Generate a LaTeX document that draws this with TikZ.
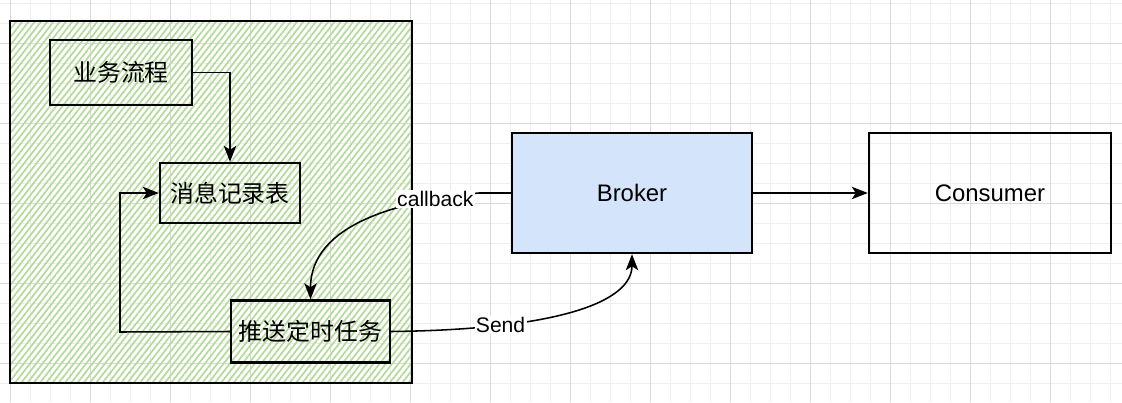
\documentclass[tikz,border=0pt]{standalone}
\usepackage{fontspec}
\setmainfont{Liberation Sans}
\newfontfamily\cjk{Noto Sans CJK SC}
\usetikzlibrary{arrows.meta,patterns.meta}
\definecolor{hatch}{HTML}{B6DA9B}
\definecolor{brokerblue}{HTML}{D4E4FA}
\definecolor{gridmin}{HTML}{EEEEEE}
\definecolor{gridmaj}{HTML}{DADADA}

\begin{document}
\begin{tikzpicture}[
  x=0.025cm, y=-0.025cm,
  font=\fontsize{17}{20}\selectfont,
  box/.style={rectangle, draw, line width=1.7pt, inner sep=0pt},
  grp/.style={rectangle, draw, line width=1.7pt,
    pattern={Lines[angle=52,distance=3.5pt,line width=1.25pt]}, pattern color=hatch},
  lbl/.style={fill=white, inner sep=1pt, font=\fontsize{15}{17}\selectfont},
  arr/.style={-{Stealth[length=4mm,width=3.1mm,inset=1mm]}, line width=1.1pt}
]
\useasboundingbox (0,0) rectangle (1122,402);
% background grid
\foreach \x in {10,30,...,1110} \draw[gridmin] (\x,0) -- (\x,402);
\foreach \y in {3,23,...,403} \draw[gridmin] (0,\y) -- (1122,\y);
\foreach \x in {10,90,...,1050} \draw[gridmaj] (\x,0) -- (\x,402);
\foreach \y in {43,123,...,363} \draw[gridmaj] (0,\y) -- (1122,\y);

\node[grp, minimum width=10.05cm, minimum height=9.05cm] (cont) at (211,202) {};

\node[box, minimum width=3.55cm, minimum height=1.625cm] (biz) at (121,72.5) {\cjk 业务流程};
\node[box, minimum width=3.5cm, minimum height=1.5cm] (tbl) at (230,193) {\cjk 消息记录表};
\node[box, minimum width=3.975cm, minimum height=1.55cm] (psh) at (310.5,331.5) {\cjk 推送定时任务};
\node[box, fill=brokerblue, minimum width=6cm, minimum height=3cm] (brk) at (632,193) {Broker};
\node[box, minimum width=6.05cm, minimum height=3cm] (csm) at (990,193) {Consumer};

\coordinate (loop) at (120,332);

\draw[arr] (biz.east) -| (tbl.north);
\draw[arr] (psh.west) -- (loop) |- (tbl.west);
\draw[arr] (brk.west) -- ++(-32,0) .. controls +(-80,8) and +(0,-75) ..
  node[lbl, pos=.18] (cb) {callback} (psh.north);
\draw[arr] (psh.east) .. controls +(170,-2) and +(0,47) ..
  node[lbl, pos=.25] (snd) {Send} (brk.south);
\draw[arr] (brk.east) -- (csm.west);
\end{tikzpicture}
\end{document}
